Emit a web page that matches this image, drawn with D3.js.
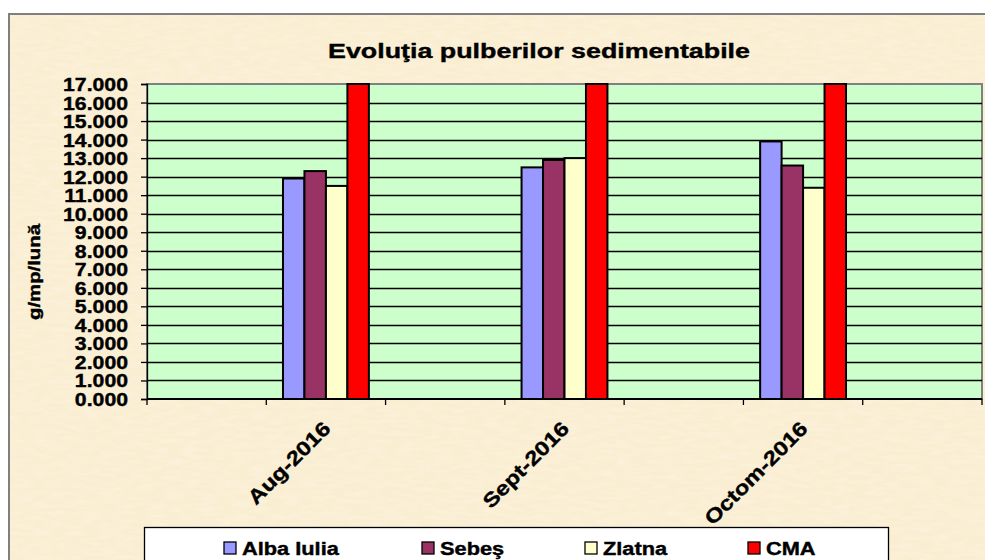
<!DOCTYPE html>
<html>
<head>
<meta charset="utf-8">
<script src="https://cdn.jsdelivr.net/npm/d3@7"></script>
<style>
  body { margin: 0; background: #fff; }
  text { font-family: "Liberation Sans", Arial, sans-serif; font-weight: bold; fill: #000; stroke: #000; stroke-width: 0.4px; }
</style>
</head>
<body>
<script>
// data
var slots = ["s0", "Aug-2016", "s2", "Sept-2016", "s4", "Octom-2016", "s6"]; // empty slots between months
var months = ["Aug-2016", "Sept-2016", "Octom-2016"];
var seriesNames = ["Alba Iulia", "Sebeş", "Zlatna", "CMA"];
var albaIulia = [11.9, 12.5, 13.9];
var sebes = [12.3, 12.9, 12.6];
var zlatna = [11.5, 13.0, 11.4];
var cma = [17, 17, 17];
var seriesColors = ["#9999FF", "#993366", "#FFFFCC", "#FF0000"];
var yTicks = [0, 1, 2, 3, 4, 5, 6, 7, 8, 9, 10, 11, 12, 13, 14, 15, 16, 17];

var seriesValues = [albaIulia, sebes, zlatna, cma];

var W = 985, H = 560;
var plot = { left: 147, top: 84, right: 982, bottom: 399 };

// the original text is drawn wider than Liberation Sans, so stretch it
function stretch(sel, f) {
    sel.each(function() {
        var l = this.getComputedTextLength();
        d3.select(this).attr("textLength", l * f).attr("lengthAdjust", "spacingAndGlyphs");
    });
}

var svg = d3.select("body").append("svg")
    .attr("width", W)
    .attr("height", H);

// parchment texture
var defs = svg.append("defs");
var filt = defs.append("filter").attr("id", "paper")
    .attr("x", 0).attr("y", 0).attr("width", "100%").attr("height", "100%");
filt.append("feTurbulence").attr("type", "fractalNoise")
    .attr("baseFrequency", "0.06 0.25").attr("numOctaves", 2).attr("seed", 3).attr("result", "noise");
filt.append("feColorMatrix").attr("in", "noise").attr("type", "matrix")
    .attr("values", "0 0 0 0 1  0 0 0 0 0.98  0 0 0 0 0.93  0 0 0 0.9 -0.35");

// chart area
svg.append("rect")
    .attr("x", 9).attr("y", 14)
    .attr("width", W + 10).attr("height", H + 10)
    .attr("fill", "#FAEED2")
    .attr("stroke", "#7f7f7f")
    .attr("stroke-width", 2);
svg.append("rect")
    .attr("x", 10).attr("y", 15)
    .attr("width", W).attr("height", H)
    .attr("filter", "url(#paper)")
    .attr("opacity", 0.6);

// title
svg.append("text")
    .attr("x", 539).attr("y", 58)
    .attr("text-anchor", "middle")
    .style("font-size", "21px")
    .text("Evoluţia pulberilor sedimentabile")
    .attr("textLength", 422)
    .attr("lengthAdjust", "spacingAndGlyphs");

var x0 = d3.scaleBand()
    .domain(slots)
    .range([plot.left, plot.right])
    .padding(0);

var groupW = x0.bandwidth() * 0.72;
var x1 = d3.scaleBand()
    .domain(seriesNames)
    .range([(x0.bandwidth() - groupW) / 2, (x0.bandwidth() + groupW) / 2])
    .padding(0);

var y = d3.scaleLinear()
    .domain([0, 17])
    .range([plot.bottom, plot.top]);

// plot area
svg.append("rect")
    .attr("x", plot.left).attr("y", plot.top)
    .attr("width", plot.right - plot.left).attr("height", plot.bottom - plot.top)
    .attr("fill", "#CCFFCC")
    .attr("stroke", "#808080")
    .attr("stroke-width", 2);

// horizontal gridlines
svg.append("g").selectAll("line")
    .data(yTicks.filter(function(d) { return d > 0 && d < 17; }))
    .join("line")
    .attr("x1", plot.left).attr("x2", plot.right)
    .attr("y1", function(d) { return Math.round(y(d)) + 0.5; })
    .attr("y2", function(d) { return Math.round(y(d)) + 0.5; })
    .attr("stroke", "#000")
    .attr("stroke-width", 1.3);

// y axis
var yAxis = svg.append("g")
    .attr("transform", "translate(" + plot.left + ",0)")
    .call(d3.axisLeft(y).tickValues(yTicks).tickSize(6).tickPadding(13)
        .tickFormat(function(d) { return d3.format(".3f")(d); }));
yAxis.selectAll("path, line").attr("stroke", "#000").attr("stroke-width", 1.3);
yAxis.selectAll("text")
    .style("font-size", "18px")
    .attr("dy", "0.36em")
    .call(stretch, 1.18);

// bars
months.forEach(function(m, mi) {
    var g = svg.append("g").attr("transform", "translate(" + x0(m) + ",0)");
    g.selectAll("rect")
        .data(seriesNames.map(function(s, si) { return { name: s, value: seriesValues[si][mi], color: seriesColors[si] }; }))
        .join("rect")
        .attr("x", function(d) { return x1(d.name); })
        .attr("y", function(d) { return y(d.value); })
        .attr("width", x1.bandwidth())
        .attr("height", function(d) { return y(0) - y(d.value); })
        .attr("fill", function(d) { return d.color; })
        .attr("stroke", "#000")
        .attr("stroke-width", 2);
});

// x axis: ticks at slot boundaries
var xAxis = svg.append("g")
    .attr("transform", "translate(0," + plot.bottom + ")");
xAxis.append("line")
    .attr("x1", plot.left).attr("x2", plot.right)
    .attr("stroke", "#000").attr("stroke-width", 2);
xAxis.selectAll(".tk")
    .data(slots.map(function(s) { return x0(s); }).concat([plot.right]))
    .join("line")
    .attr("class", "tk")
    .attr("x1", function(d) { return d; }).attr("x2", function(d) { return d; })
    .attr("y1", 0).attr("y2", 6)
    .attr("stroke", "#000").attr("stroke-width", 1.3);
xAxis.selectAll("text")
    .data(months)
    .join("text")
    .attr("text-anchor", "end")
    .attr("transform", function(d) {
        return "translate(" + (x0(d) + x0.bandwidth() / 2 - 4) + ",21) rotate(-45)";
    })
    .attr("dy", "0.7em")
    .style("font-size", "20px")
    .text(function(d) { return d; })
    .call(stretch, 1.19);

// y label
svg.append("text")
    .attr("transform", "translate(40,272) rotate(-90)")
    .attr("text-anchor", "middle")
    .style("font-size", "16px")
    .text("g/mp/lună")
    .attr("textLength", 96)
    .attr("lengthAdjust", "spacingAndGlyphs");

// legend
var legend = svg.append("g");
legend.append("rect")
    .attr("x", 144.5).attr("y", 527.5)
    .attr("width", 744).attr("height", 60)
    .attr("fill", "#fff")
    .attr("stroke", "#000")
    .attr("stroke-width", 1.3);
var legendX = [224, 422, 585, 748];
var items = legend.selectAll(".item")
    .data(seriesNames)
    .join("g")
    .attr("class", "item")
    .attr("transform", function(d, i) { return "translate(" + legendX[i] + ",542)"; });
items.append("rect")
    .attr("width", 12).attr("height", 12)
    .attr("fill", function(d, i) { return seriesColors[i]; })
    .attr("stroke", "#000").attr("stroke-width", 1.3);
items.append("text")
    .attr("x", 18).attr("y", 13)
    .style("font-size", "18px")
    .text(function(d) { return d; })
    .call(stretch, 1.21);
</script>
</body>
</html>
